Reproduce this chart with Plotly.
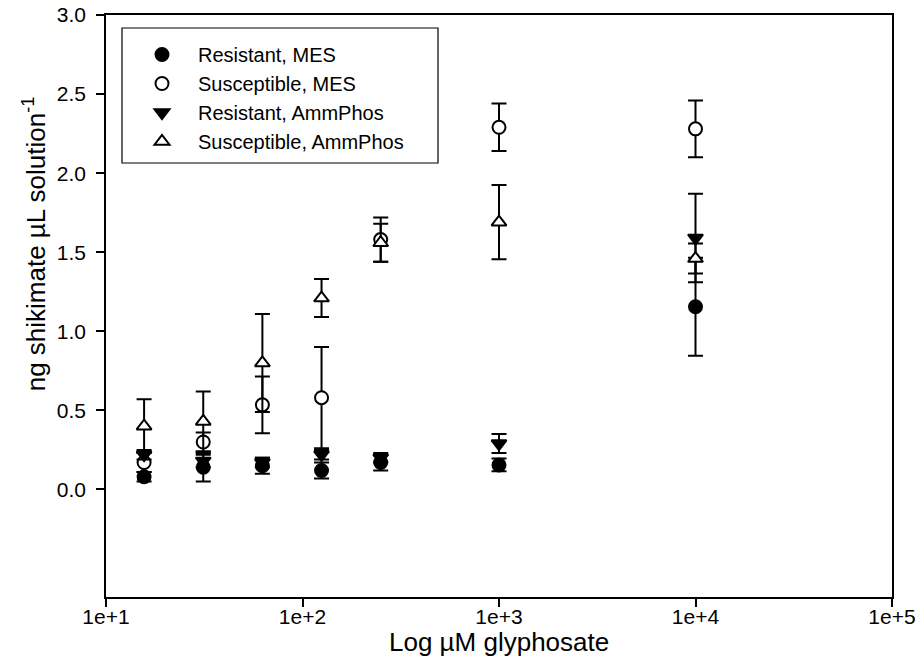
import plotly.graph_objects as go

# Glyphosate doses (uM)
doses = [15.625, 31.25, 62.5, 125, 250, 1000, 10000]

res_mes = [0.08, 0.14, 0.15, 0.12, 0.17, 0.155, 1.155]
res_mes_err = [0.03, 0.09, 0.05, 0.05, 0.05, 0.04, 0.31]

sus_mes = [0.17, 0.30, 0.535, 0.58, 1.58, 2.29, 2.28]
sus_mes_err = [0.06, 0.06, 0.18, 0.32, 0.14, 0.15, 0.18]

res_amm = [0.22, 0.18, 0.17, 0.22, 0.20, 0.29, 1.59]
res_amm_err = [0.03, 0.04, 0.03, 0.03, 0.03, 0.06, 0.28]

sus_amm = [0.40, 0.43, 0.80, 1.21, 1.56, 1.69, 1.46]
sus_amm_err = [0.17, 0.19, 0.31, 0.12, 0.12, 0.235, 0.095]

series = [
    ("Resistant, MES", res_mes, res_mes_err, "circle", "black"),
    ("Susceptible, MES", sus_mes, sus_mes_err, "circle", "white"),
    ("Resistant, AmmPhos", res_amm, res_amm_err, "triangle-down", "black"),
    ("Susceptible, AmmPhos", sus_amm, sus_amm_err, "triangle-up", "white"),
]

x_title = "Log µM glyphosate"
y_title = "ng shikimate µL solution<sup>-1</sup>"

fig = go.Figure()
for name, ys, errs, sym, fill in series:
    fig.add_trace(go.Scatter(
        x=doses, y=ys, name=name, mode="markers",
        marker=dict(symbol=sym, size=13, color=fill,
                    line=dict(color="black", width=2)),
        error_y=dict(type="data", array=errs, visible=True,
                     color="black", thickness=2, width=7.5),
    ))

# plot-area geometry in pixels
L, R, T, B = 106, 892, 15, 597
W, H = R - L, B - T

# legend frame
fig.add_shape(type="rect", xref="paper", yref="paper",
              x0=(122 - L) / W, x1=(438 - L) / W,
              y0=(B - 163) / H, y1=(B - 28) / H,
              line=dict(color="black", width=1.2), fillcolor="rgba(0,0,0,0)")

# axis titles
fig.add_annotation(text=x_title, xref="paper", yref="paper",
                   x=0.5, y=(B - 642) / H, xanchor="center", yanchor="middle",
                   showarrow=False, font=dict(size=26))
fig.add_annotation(text=y_title, xref="paper", yref="y",
                   x=(34 - L) / W, y=1.55, xanchor="center", yanchor="middle",
                   textangle=-90, showarrow=False, font=dict(size=26))

font_family = "Liberation Sans, Arial, sans-serif"
fig.update_layout(
    width=918, height=660,
    margin=dict(l=L, r=918 - R, t=T, b=660 - B, autoexpand=False),
    paper_bgcolor="white", plot_bgcolor="white",
    font=dict(family=font_family, size=20, color="black"),
    showlegend=True,
    legend=dict(
        x=(126 - L) / W, y=(B - 35) / H, xanchor="left", yanchor="top",
        borderwidth=0, bgcolor="rgba(0,0,0,0)",
        font=dict(size=20), tracegroupgap=0, traceorder="normal",
        itemwidth=62,
    ),
    xaxis=dict(
        type="log", range=[1, 5],
        tickvals=[10, 100, 1000, 10000, 100000],
        ticktext=["1e+1", "1e+2", "1e+3", "1e+4", "1e+5"],
        ticks="outside", ticklen=8, tickwidth=1.5, tickcolor="black",
        showline=True, linecolor="black", linewidth=1.5, mirror=True,
        showgrid=False, zeroline=False, automargin=False,
        ticklabelstandoff=-8,
        tickfont=dict(size=21),
    ),
    yaxis=dict(
        range=[-0.68, 3.0],
        tickvals=[0, 0.5, 1.0, 1.5, 2.0, 2.5, 3.0],
        ticktext=["0.0", "0.5", "1.0", "1.5", "2.0", "2.5", "3.0"],
        ticks="outside", ticklen=8, tickwidth=1.5, tickcolor="black",
        showline=True, linecolor="black", linewidth=1.5, mirror=True,
        showgrid=False, zeroline=False, automargin=False,
        ticklabelstandoff=6,
        tickfont=dict(size=21),
    ),
)

fig.write_html("out.html")
